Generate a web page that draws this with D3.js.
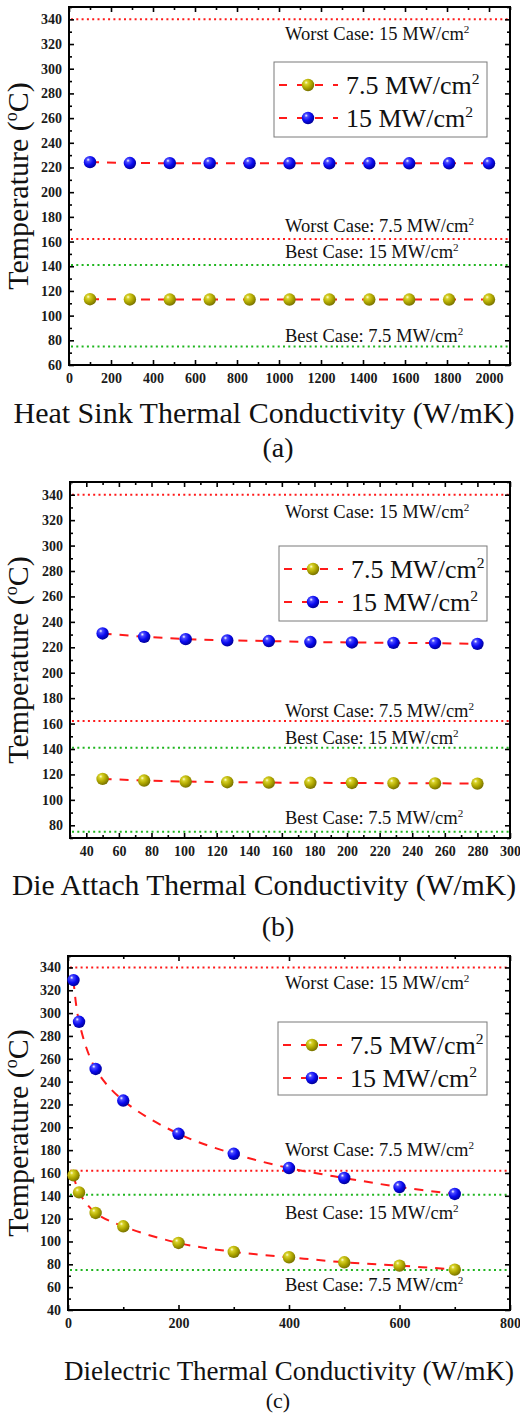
<!DOCTYPE html>
<html>
<head>
<meta charset="utf-8">
<script src="https://cdn.jsdelivr.net/npm/d3@7"></script>
<style>
  html, body { margin: 0; padding: 0; background: #fff; }
  svg { display: block; font-family: "Liberation Serif", "Times New Roman", serif; }
</style>
</head>
<body>
<svg id="chart" width="520" height="1414"></svg>
<script>
// Series and reference data.
const seriesNames = ['7.5', '15'];

const caseValues = [340, 162, 141, 75];
const caseNames = ['Worst Case: 15', 'Worst Case: 7.5', 'Best Case: 15', 'Best Case: 7.5'];
const caseKinds = ['worst', 'worst', 'best', 'best'];

// (a) heat sink
const heatSinkK = [100, 290, 480, 670, 860, 1050, 1240, 1430, 1620, 1810, 2000];
const heatSinkT75 = [113.3, 113.1, 113, 113, 113, 113, 113, 113, 113, 113, 113];
const heatSinkT15 = [224.3, 223.6, 223.5, 223.5, 223.5, 223.4, 223.4, 223.4, 223.4, 223.4, 223.4];
const heatSinkXTicks = [0, 200, 400, 600, 800, 1000, 1200, 1400, 1600, 1800, 2000];
const heatSinkYTicks = [60, 80, 100, 120, 140, 160, 180, 200, 220, 240, 260, 280, 300, 320, 340];

// (b) die attach
const dieAttachK = [50, 75.5, 101, 126.5, 152, 177.5, 203, 228.5, 254, 280];
const dieAttachT75 = [116.5, 115.2, 114.4, 113.9, 113.6, 113.4, 113.3, 113.1, 113.0, 112.8];
const dieAttachT15 = [230.9, 228.2, 226.4, 225.4, 224.9, 224.1, 223.8, 223.5, 223.3, 222.7];
const dieAttachXTicks = [40, 60, 80, 100, 120, 140, 160, 180, 200, 220, 240, 260, 280, 300];
const dieAttachYTicks = [80, 100, 120, 140, 160, 180, 200, 220, 240, 260, 280, 300, 320, 340];

// (c) dielectric
const dielectricK = [10, 20, 50, 100, 200, 300, 400, 500, 600, 700];
const dielectricT75 = [157.9, 143, 125, 113.3, 98.7, 90.9, 86.2, 81.8, 78.9, 75.4];
const dielectricT15 = [328.9, 292.4, 251.1, 223.4, 194.3, 176.8, 164.3, 155.6, 147.7, 141.6];
const dielectricXTicks = [0, 200, 400, 600, 800];
const dielectricYTicks = [40, 60, 80, 100, 120, 140, 160, 180, 200, 220, 240, 260, 280, 300, 320, 340];

const panels = [
  {
    tag: '(a)', xTitle: 'Heat Sink Thermal Conductivity (W/mK)',
    k: heatSinkK, t75: heatSinkT75, t15: heatSinkT15,
    xDomain: [0, 2100], yDomain: [60, 350],
    xTicks: heatSinkXTicks, yTicks: heatSinkYTicks, xMinorStep: 100,
    curve: d3.curveLinear,
  },
  {
    tag: '(b)', xTitle: 'Die Attach Thermal Conductivity (W/mK)',
    k: dieAttachK, t75: dieAttachT75, t15: dieAttachT15,
    xDomain: [30, 300], yDomain: [70, 350],
    xTicks: dieAttachXTicks, yTicks: dieAttachYTicks, xMinorStep: 10,
    curve: d3.curveLinear,
  },
  {
    tag: '(c)', xTitle: 'Dielectric Thermal Conductivity (W/mK)',
    k: dielectricK, t75: dielectricT75, t15: dielectricT15,
    xDomain: [0, 800], yDomain: [40, 350],
    xTicks: dielectricXTicks, yTicks: dielectricYTicks, xMinorStep: 100,
    curve: d3.curveCatmullRom,
  },
];

// Pixel layout of each panel (plot box, legend, annotations, titles).
const layouts = [
  {
    left: 69, right: 510, top: 7, bottom: 365,
    legend: {x: 274, y: 62, w: 213, h: 75},
    caseDy: [15, -13, -13, -10],
    xTitle: {x: 264, y: 413, size: 30}, tag: {x: 278, y: 457, size: 28},
  },
  {
    left: 70, right: 510, top: 482, bottom: 838,
    legend: {x: 279, y: 546, w: 208, h: 75},
    caseDy: [17, -10, -10, -14],
    xTitle: {x: 264, y: 885, size: 29.6}, tag: {x: 278, y: 936, size: 28},
  },
  {
    left: 68, right: 510, top: 956, bottom: 1310,
    legend: {x: 278, y: 1022, w: 209, h: 73},
    caseDy: [16, -21, 18, 15],
    xTitle: {x: 289, y: 1371, size: 27}, tag: {x: 278, y: 1408, size: 22},
  },
];

const RED = '#ff1a1a';
const GREEN = '#1fb51f';

const svg = d3.select('#chart');

// Sphere-looking markers via radial gradients.
const defs = svg.append('defs');
function sphere(id, stops) {
  const grad = defs.append('radialGradient')
    .attr('id', id)
    .attr('cx', '38%').attr('cy', '35%').attr('r', '65%')
    .attr('fx', '35%').attr('fy', '30%');
  stops.forEach(([off, col]) => grad.append('stop').attr('offset', off).attr('stop-color', col));
}
sphere('ball-75', [['0%', '#ffffd8'], ['22%', '#d8d22a'], ['60%', '#b0a800'], ['100%', '#7a7400']]);
sphere('ball-15', [['0%', '#ffffff'], ['22%', '#4a4aff'], ['60%', '#0a0af0'], ['100%', '#00009a']]);
const ballFill = ['url(#ball-75)', 'url(#ball-15)'];

// Writes "<before><sup>sup</sup><after>" into a text selection.
function supText(sel, before, sup, after, size) {
  sel.append('tspan').style('font-size', `${size}px`).text(before);
  sel.append('tspan').attr('dy', -size * 0.38).style('font-size', `${size * 0.6}px`).text(sup);
  if (after) {
    sel.append('tspan').attr('dy', size * 0.38).style('font-size', `${size}px`).text(after);
  }
}

function drawPanel(p, box) {
  const g = svg.append('g');
  const x = d3.scaleLinear().domain(p.xDomain).range([box.left, box.right]);
  const y = d3.scaleLinear().domain(p.yDomain).range([box.bottom, box.top]);

  // Reference (worst/best case) dotted lines.
  caseValues.forEach((v, i) => {
    g.append('line')
      .attr('x1', box.left + 2).attr('x2', box.right - 1)
      .attr('y1', y(v)).attr('y2', y(v))
      .attr('stroke', caseKinds[i] === 'worst' ? RED : GREEN)
      .attr('stroke-width', 2)
      .attr('stroke-dasharray', '2,3.3');

    const t = g.append('text')
      .attr('x', 285)
      .attr('y', y(v) + box.caseDy[i] + 6)
      .style('font-size', '18.5px')
      .attr('fill', '#111');
    supText(t, `${caseNames[i]} MW/cm`, '2', '', 18.5);
  });

  // Axes: ticks point inward, labels only on bottom/left.
  const xMinor = d3.range(p.xDomain[0], p.xDomain[1] + 0.001, p.xMinorStep)
    .filter((v) => !p.xTicks.includes(v));
  const yMinor = d3.range(p.yDomain[0], p.yDomain[1] + 0.001, 10)
    .filter((v) => !p.yTicks.includes(v));

  const axes = [
    [d3.axisBottom, x, box.bottom, 'x', true],
    [d3.axisTop, x, box.top, 'x', false],
    [d3.axisLeft, y, box.left, 'y', true],
    [d3.axisRight, y, box.right, 'y', false],
  ];
  axes.forEach(([axisFn, scale, pos, dim, labelled]) => {
    const major = dim === 'x' ? p.xTicks : p.yTicks;
    const minor = dim === 'x' ? xMinor : yMinor;
    const tr = dim === 'x' ? `translate(0,${pos})` : `translate(${pos},0)`;
    const majorG = g.append('g').attr('transform', tr).call(
      axisFn(scale).tickValues(major).tickSizeInner(-5).tickSizeOuter(0)
        .tickPadding(dim === 'x' ? 8 : 7)
        .tickFormat(labelled ? d3.format('d') : () => ''));
    const minorG = g.append('g').attr('transform', tr).call(
      axisFn(scale).tickValues(minor).tickSizeInner(-3).tickSizeOuter(0).tickFormat(() => ''));
    [majorG, minorG].forEach((s) => {
      s.select('.domain').remove();
      s.selectAll('line').attr('stroke', '#000').attr('stroke-width', 1.6);
      s.selectAll('text').filter(function () { return !this.textContent; }).remove();
      s.selectAll('text')
        .style('font-size', '14px')
        .style('font-weight', 'bold')
        .style('font-family', '"Liberation Serif", serif')
        .attr('fill', '#1a1a1a');
    });
  });

  g.append('rect')
    .attr('x', box.left).attr('y', box.top)
    .attr('width', box.right - box.left).attr('height', box.bottom - box.top)
    .attr('fill', 'none').attr('stroke', '#000').attr('stroke-width', 2);

  // Dashed fit lines and sphere markers.
  const line = d3.line().x((d) => x(d[0])).y((d) => y(d[1])).curve(p.curve);
  [p.t75, p.t15].forEach((vals, si) => {
    const pts = p.k.map((k, i) => [k, vals[i]]);
    g.append('path')
      .attr('d', line(pts))
      .attr('fill', 'none')
      .attr('stroke', RED)
      .attr('stroke-width', 2)
      .attr('stroke-dasharray', '9,8');
    g.append('g').selectAll('circle')
      .data(pts)
      .join('circle')
      .attr('cx', (d) => x(d[0]))
      .attr('cy', (d) => y(d[1]))
      .attr('r', 6.2)
      .attr('fill', ballFill[si]);
  });

  // Legend.
  const lg = box.legend;
  const leg = g.append('g').attr('transform', `translate(${lg.x},${lg.y})`);
  leg.append('rect')
    .attr('width', lg.w).attr('height', lg.h)
    .attr('fill', '#fff').attr('stroke', '#7a7a7a').attr('stroke-width', 1);
  seriesNames.forEach((name, i) => {
    const cy = 23 + i * 33;
    leg.append('line')
      .attr('x1', 3).attr('x2', 64).attr('y1', cy).attr('y2', cy)
      .attr('stroke', RED).attr('stroke-width', 2).attr('stroke-dasharray', '8,10')
      .attr('stroke-dashoffset', -2);
    leg.append('circle').attr('cx', 34).attr('cy', cy).attr('r', 6.2).attr('fill', ballFill[i]);
    const t = leg.append('text').attr('x', 72).attr('y', cy + 9).style('font-size', '26px').attr('fill', '#111');
    supText(t, `${name} MW/cm`, '2', '', 26);
  });

  // Axis titles and panel tag.
  g.append('text')
    .attr('x', box.xTitle.x).attr('y', box.xTitle.y + box.xTitle.size * 0.33)
    .attr('text-anchor', 'middle')
    .style('font-size', `${box.xTitle.size}px`)
    .attr('fill', '#111')
    .text(p.xTitle);

  const yt = g.append('text')
    .attr('transform', `translate(28,${(box.top + box.bottom) / 2}) rotate(-90)`)
    .attr('text-anchor', 'middle')
    .style('font-size', '30px')
    .attr('fill', '#111');
  supText(yt, 'Temperature (', 'o', 'C)', 30);

  g.append('text')
    .attr('x', box.tag.x).attr('y', box.tag.y)
    .attr('text-anchor', 'middle')
    .style('font-size', `${box.tag.size}px`)
    .attr('fill', '#111')
    .text(p.tag);
}

panels.forEach((p, i) => drawPanel(p, layouts[i]));
</script>
</body>
</html>
